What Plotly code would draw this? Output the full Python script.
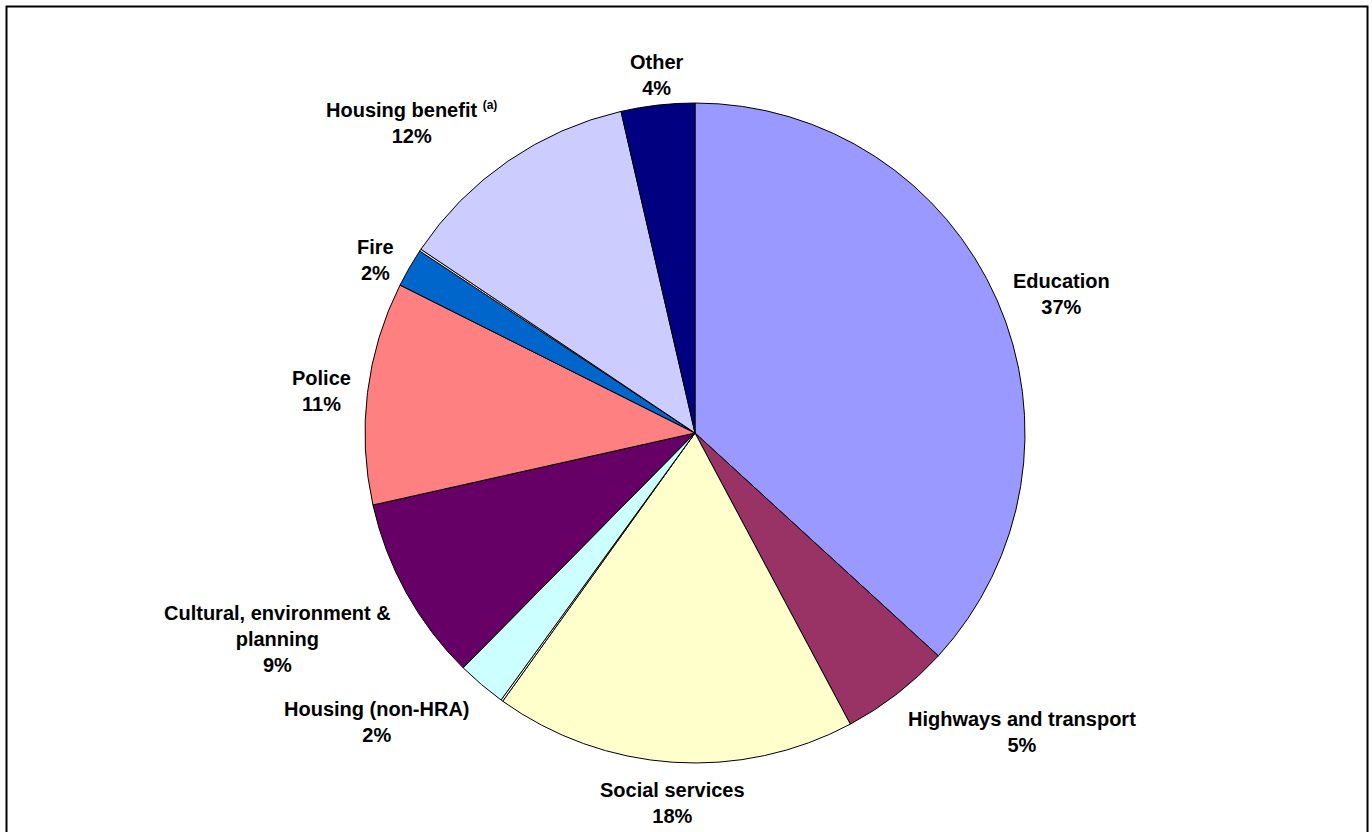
import math
import plotly.graph_objects as go

# Spending shares by service (per cent), clockwise from 12 o'clock
categories = [
    "Education", "Highways and transport", "Social services", "",
    "Housing (non-HRA)", "Cultural, environment &<br>planning", "Police", "Fire", "",
    "Housing benefit <sup><span style='font-size:12px'>(a)</span></sup>", "Other",
]
shares = [36.8, 5.4, 17.7, 0.1, 2.4, 9.1, 10.9, 1.9, 0.1, 12.0, 3.6]
colors = ["#9999FF", "#993366", "#FFFFCC", "#FFFFFF", "#CCFFFF", "#660066",
          "#FF8080", "#0066CC", "#FFFFFF", "#CCCCFF", "#000080"]

W, H = 1372, 832
cx, cy, R = 695, 433, 330  # pie centre and radius in pixels

fig = go.Figure(go.Pie(
    values=shares,
    labels=[f"s{i}" for i in range(len(shares))],
    marker=dict(colors=colors, line=dict(color="black", width=1)),
    sort=False, direction="clockwise", rotation=0,
    textinfo="none", hoverinfo="skip", showlegend=False,
    domain=dict(x=[(cx - R) / W, (cx + R) / W], y=[1 - (cy + R) / H, 1 - (cy - R) / H]),
))

# Labels outside the pie, anchored on the side facing the slice
total = sum(shares)
cum = 0.0
annotations = []
for name, v in zip(categories, shares):
    mid = (cum + v / 2) / total * 2 * math.pi
    cum += v
    if not name:
        continue
    s, c = math.sin(mid), math.cos(mid)
    gap = 4 if c > 0.95 else 15
    px = cx + (R + gap) * s
    py = cy - (R + gap) * c
    xa = "left" if s > 0.3 else ("right" if s < -0.3 else "center")
    ya = "bottom" if c > 0.7 else ("top" if c < -0.4 else "middle")
    pct = round(v / total * 100)
    annotations.append(dict(
        x=px / W, y=1 - py / H, xref="paper", yref="paper",
        text=f"<b>{name}<br>{pct}%</b>", showarrow=False,
        xanchor=xa, yanchor=ya, align="center",
        font=dict(family="Liberation Sans, Arial, sans-serif", size=20, color="black"),
    ))

fig.update_layout(
    width=W, height=H, margin=dict(l=0, r=0, t=0, b=0),
    paper_bgcolor="white", plot_bgcolor="white",
    annotations=annotations,
    shapes=[dict(type="rect", xref="paper", yref="paper",
                 x0=6.5 / W, x1=1367.5 / W, y0=-0.05, y1=1 - 6.5 / H,
                 line=dict(color="black", width=2), fillcolor="rgba(0,0,0,0)")],
)

fig.write_html("out.html")
